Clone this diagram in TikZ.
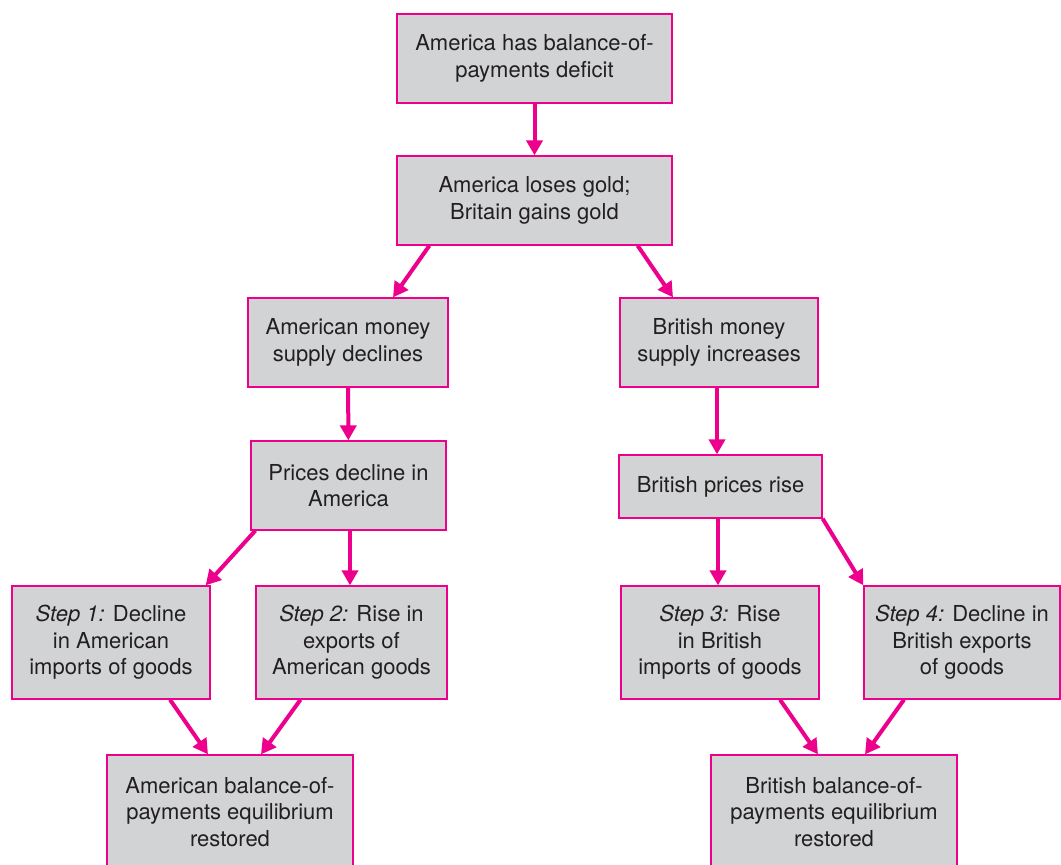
\documentclass[tikz,border=0pt]{standalone}
\usepackage{fontspec}
\setmainfont{TeX Gyre Heros}
\usetikzlibrary{arrows.meta}
\definecolor{flowpink}{RGB}{236,0,140}
\definecolor{boxgray}{RGB}{209,211,212}
\definecolor{inkgray}{RGB}{35,31,32}
\tikzset{
  flowbox/.style={draw=flowpink, line width=1.3pt, fill=boxgray, text=inkgray,
    align=center, inner sep=0pt, font=\fontsize{22}{26.5}\selectfont},
  flowarr/.style={draw=flowpink, line width=4pt, -{Triangle[length=15pt,width=16pt]}},
}

\begin{document}
\begin{tikzpicture}[x=1pt,y=-1pt]
  \useasboundingbox (0,0) rectangle (1061,865);
  \clip (0,0) rectangle (1061,865);
  % gold flow boxes
  \node (deficit) [flowbox, minimum width=275pt, minimum height=89pt] at (534.5,58.5)
    {America has balance-of-\\payments deficit};
  \node (gold) [flowbox, minimum width=275pt, minimum height=89pt] at (534.5,200.5)
    {America loses gold;\\Britain gains gold};
  \node (amsupply) [flowbox, minimum width=200pt, minimum height=89pt] at (348,342.5)
    {American money\\supply declines};
  \node (brsupply) [flowbox, minimum width=198pt, minimum height=89pt] at (719,342.5)
    {British money\\supply increases};
  \node (amprices) [flowbox, minimum width=195pt, minimum height=89pt] at (348.5,485.5)
    {Prices decline in\\America};
  \node (brprices) [flowbox, minimum width=203pt, minimum height=63pt] at (720.5,486.5)
    {British prices rise};
  % the four steps
  \node (step1) [flowbox, minimum width=198pt, minimum height=113pt] at (111,642.5)
    {\textit{Step 1:} Decline\\in American\\imports of goods};
  \node (step2) [flowbox, minimum width=191pt, minimum height=113pt] at (351.5,642.5)
    {\textit{Step 2:} Rise in\\exports of\\American goods};
  \node (step3) [flowbox, minimum width=198pt, minimum height=113pt] at (720,642.5)
    {\textit{Step 3:} Rise\\in British\\imports of goods};
  \node (step4) [flowbox, minimum width=196pt, minimum height=113pt] at (962,642.5)
    {\textit{Step 4:} Decline in\\British exports\\of goods};
  % equilibrium
  \node (ambop) [flowbox, minimum width=246pt, minimum height=114pt] at (230,812)
    {American balance-of-\\payments equilibrium\\restored};
  \node (brbop) [flowbox, minimum width=246pt, minimum height=114pt] at (834,812)
    {British balance-of-\\payments equilibrium\\restored};

  \draw[flowarr] (deficit) -- (gold);
  \draw[flowarr] ([xshift=33pt]gold.south west) -- ([xshift=45pt]amsupply.north);
  \draw[flowarr] ([xshift=-35pt]gold.south east) -- ([xshift=-46pt]brsupply.north);
  \draw[flowarr] (amsupply) -- (amprices);
  \draw[flowarr] ([xshift=-2pt]brsupply.south) -- ([xshift=-2pt]brsupply.south |- brprices.north);
  \draw[flowarr] ([xshift=5pt]amprices.south west) -- ([xshift=-5pt]step1.north east);
  \draw[flowarr] ([xshift=1.5pt]amprices.south) -- ([xshift=1.5pt]amprices.south |- step2.north);
  \draw[flowarr] ([xshift=-2.5pt]brprices.south) -- ([xshift=-2.5pt]brprices.south |- step3.north);
  \draw[flowarr] (brprices.south east) -- (step4.north west);
  \draw[flowarr] ([xshift=59pt]step1.south) -- ([xshift=-22pt]ambop.north);
  \draw[flowarr] ([xshift=-51pt]step2.south) -- ([xshift=31pt]ambop.north);
  \draw[flowarr] ([xshift=60pt]step3.south) -- ([xshift=-16pt]brbop.north);
  \draw[flowarr] ([xshift=-58pt]step4.south) -- ([xshift=31pt]brbop.north);
\end{tikzpicture}
\end{document}
